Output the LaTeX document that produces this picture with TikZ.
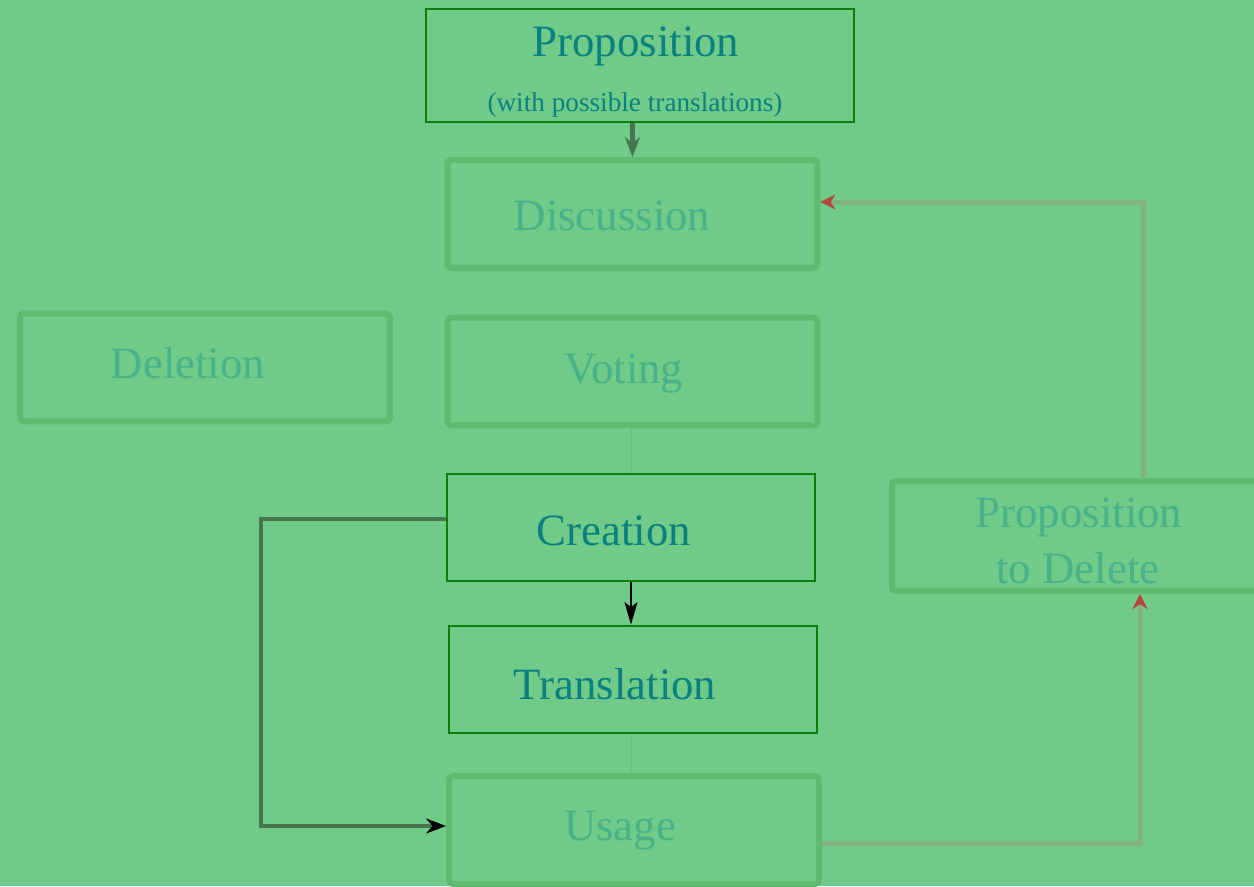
\documentclass[tikz,border=0pt]{standalone}
\usepackage{fontspec}
\setmainfont{Liberation Serif}
\usetikzlibrary{arrows.meta}

\definecolor{bggreen}{HTML}{70CA88}
\definecolor{boxgreen}{HTML}{0A800A}
\definecolor{tealtext}{HTML}{0B8080}
\definecolor{fadeedge}{HTML}{5FBB6F}
\definecolor{fadetext}{HTML}{48B28B}
\definecolor{fadeline}{HTML}{84B27E}
\definecolor{fadered}{HTML}{B4463E}
\definecolor{darkline}{HTML}{48744F}
\definecolor{faintline}{HTML}{66BE7E}

\tikzset{
  sharpbox/.style={draw=boxgreen, line width=0.055cm, minimum width=7.36cm, minimum height=2.14cm, inner sep=0pt},
  fadebox/.style={draw=fadeedge, line width=0.12cm, rounded corners=0.08cm, minimum width=7.4cm, minimum height=2.16cm, inner sep=0pt},
  bigtext/.style={text=tealtext, font=\fontsize{25.5}{30}\selectfont, inner sep=0pt},
  smalltext/.style={text=tealtext, font=\fontsize{15.5}{18}\selectfont, inner sep=0pt},
  fadetxt/.style={text=fadetext, font=\fontsize{25.5}{30}\selectfont, inner sep=0pt},
}

\begin{document}
\begin{tikzpicture}[x=0.02cm, y=-0.02cm]
        \fill[bggreen] (0,0) rectangle (1254,886);
        \useasboundingbox (0,0) rectangle (1254,886);

        % faded boxes
        \node[fadebox] (disc)  at (632.5,214)  {};
        \node[fadebox] (del)   at (205,367.5)  {};
        \node[fadebox] (vote)  at (632.5,371.5) {};
        \node[fadebox] (usage) at (634,830)    {};
        \node[fadebox, minimum height=2.2cm] (pdel) at (1077,536) {};

        \node[fadetxt] (disc-t)  at (612,216) {Discussion};
        \node[fadetxt] (del-t)   at (188,363) {Deletion};
        \node[fadetxt] (vote-t)  at (624,373) {Voting};
        \node[fadetxt] (usage-t) at (620,831) {Usage};
        \node[fadetxt] (pdel-t1) at (1079,517) {Proposition};
        \node[fadetxt] (pdel-t2) at (1078,568) {to Delete};

        % sharp boxes
        \node[sharpbox, minimum width=8.56cm, minimum height=2.26cm] (prop) at (640,65.5) {};
        \node[sharpbox] (crea)  at (631,527.5) {};
        \node[sharpbox] (trans) at (633,679.5) {};

        \node[bigtext]   (prop-t)  at (636,46)  {Proposition};
        \node[smalltext] (prop-s)  at (635,105) {(with possible translations)};
        \node[bigtext]   (crea-t)  at (614,531) {Creation};
        \node[bigtext]   (trans-t) at (615,684) {Translation};

        % connectors
        \draw[faintline, line width=0.02cm] (vote.south -| crea.north) -- (crea.north);
        \draw[faintline, line width=0.02cm] (crea.south |- trans.south) -- (crea.south |- usage.north);

        \draw[darkline, line width=0.1cm, -{Stealth[length=0.4cm, width=0.3cm]}]
            (prop.south -| disc.north) -- (disc.north);

        \draw[fadeline, line width=0.1cm, -{Stealth[length=0.3cm, width=0.3cm, fadered]}]
            ([xshift=1.32cm]pdel.north) |- ([yshift=0.24cm]disc.east);

        \draw[fadeline, line width=0.1cm, -{Stealth[length=0.3cm, width=0.3cm, fadered]}]
            ([yshift=-0.26cm]usage.east) -| ([xshift=1.26cm]pdel.south);

        \draw[black, line width=0.04cm, -{Stealth[length=0.45cm, width=0.26cm, inset=0.1cm]}]
            (crea.south) -- (crea.south |- trans.north);

        \draw[darkline, line width=0.08cm, -{Stealth[length=0.4cm, width=0.3cm, black]}]
            ([yshift=0.17cm]crea.west) -- ++(-3.7cm,0) |- ([yshift=0.08cm]usage.west);
    \end{tikzpicture}
\end{document}
